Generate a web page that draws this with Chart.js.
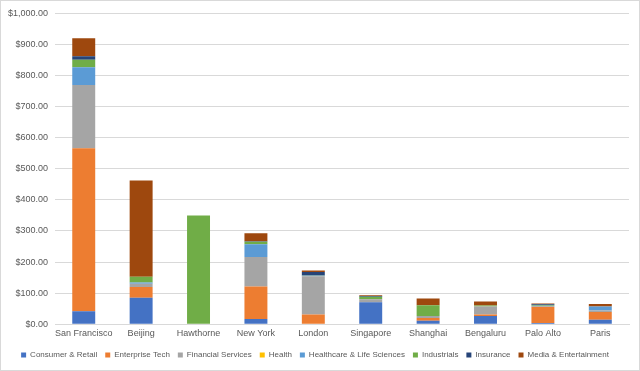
<!DOCTYPE html>
<html>
<head>
<meta charset="utf-8">
<script src="https://cdn.jsdelivr.net/npm/chart.js@4/dist/chart.umd.min.js"></script>
<style>
  html, body { margin: 0; padding: 0; background: #fff; }
  #wrap { position: relative; width: 640px; height: 371px; box-sizing: border-box; border: 1px solid #d9d9d9; }
  canvas { display: block; }
</style>
</head>
<body>
<div id="wrap"><canvas id="c" width="638" height="369"></canvas></div>
<script>
const categories = ["San Francisco", "Beijing", "Hawthorne", "New York", "London", "Singapore", "Shanghai", "Bengaluru", "Palo Alto", "Paris"];
const seriesNames = ["Consumer & Retail", "Enterprise Tech", "Financial Services", "Health", "Healthcare & Life Sciences", "Industrials", "Insurance", "Media & Entertainment"];
const consumerRetail   = [42, 85, 0, 17, 0, 71, 11, 26, 4, 14];
const enterpriseTech   = [524, 35, 0, 104, 31, 0, 9, 5, 52, 25];
const financialServices= [204, 10, 0, 95, 123, 9, 6, 26, 1, 5];
const health           = [0, 0, 0, 0, 0, 0, 0, 0, 0, 0];
const healthcareLife   = [57, 4, 0, 41, 2, 0, 0, 0, 2, 13];
const industrials      = [24, 19, 350, 8, 1, 8, 35, 3, 3, 0];
const insurance        = [11, 0, 0, 2, 11, 3, 0, 0, 2, 0];
const mediaEntertain   = [58, 309, 0, 26, 5, 2, 22, 13, 3, 8];
const yTicks = [0, 100, 200, 300, 400, 500, 600, 700, 800, 900, 1000];

const seriesData = [consumerRetail, enterpriseTech, financialServices, health, healthcareLife, industrials, insurance, mediaEntertain];
const colors = ["#4472C4", "#ED7D31", "#A5A5A5", "#FFC000", "#5B9BD5", "#70AD47", "#264478", "#9E480E"];

const fmt = v => "$" + v.toLocaleString("en-US", {minimumFractionDigits: 2, maximumFractionDigits: 2});
const FONT = "Liberation Sans";

new Chart(document.getElementById("c"), {
  type: "bar",
  data: {
    labels: categories,
    datasets: seriesNames.map((n, i) => ({
      label: n,
      data: seriesData[i],
      backgroundColor: colors[i],
      borderWidth: 0,
      categoryPercentage: 1.0,
      barPercentage: 0.4
    }))
  },
  options: {
    responsive: false,
    animation: false,
    layout: { padding: { left: 0, right: 10, top: 5, bottom: 1 } },
    plugins: {
      legend: {
        position: "bottom",
        labels: {
          boxWidth: 5, boxHeight: 5, padding: 8,
          color: "#595959",
          font: { family: FONT, size: 8 }
        }
      },
      tooltip: { enabled: false }
    },
    scales: {
      x: {
        stacked: true,
        grid: { display: false, drawTicks: false, tickLength: 0 },
        border: { color: "#d9d9d9" },
        ticks: { color: "#595959", font: { family: FONT, size: 9 }, maxRotation: 0, autoSkip: false, padding: 4 }
      },
      y: {
        stacked: true,
        min: 0, max: 1000,
        afterBuildTicks: ax => { ax.ticks = yTicks.map(v => ({ value: v })); },
        grid: { color: "#d9d9d9", drawTicks: false },
        border: { display: false },
        ticks: { color: "#595959", font: { family: FONT, size: 9 }, padding: 7, callback: v => fmt(v) }
      }
    }
  }
});
</script>
</body>
</html>
